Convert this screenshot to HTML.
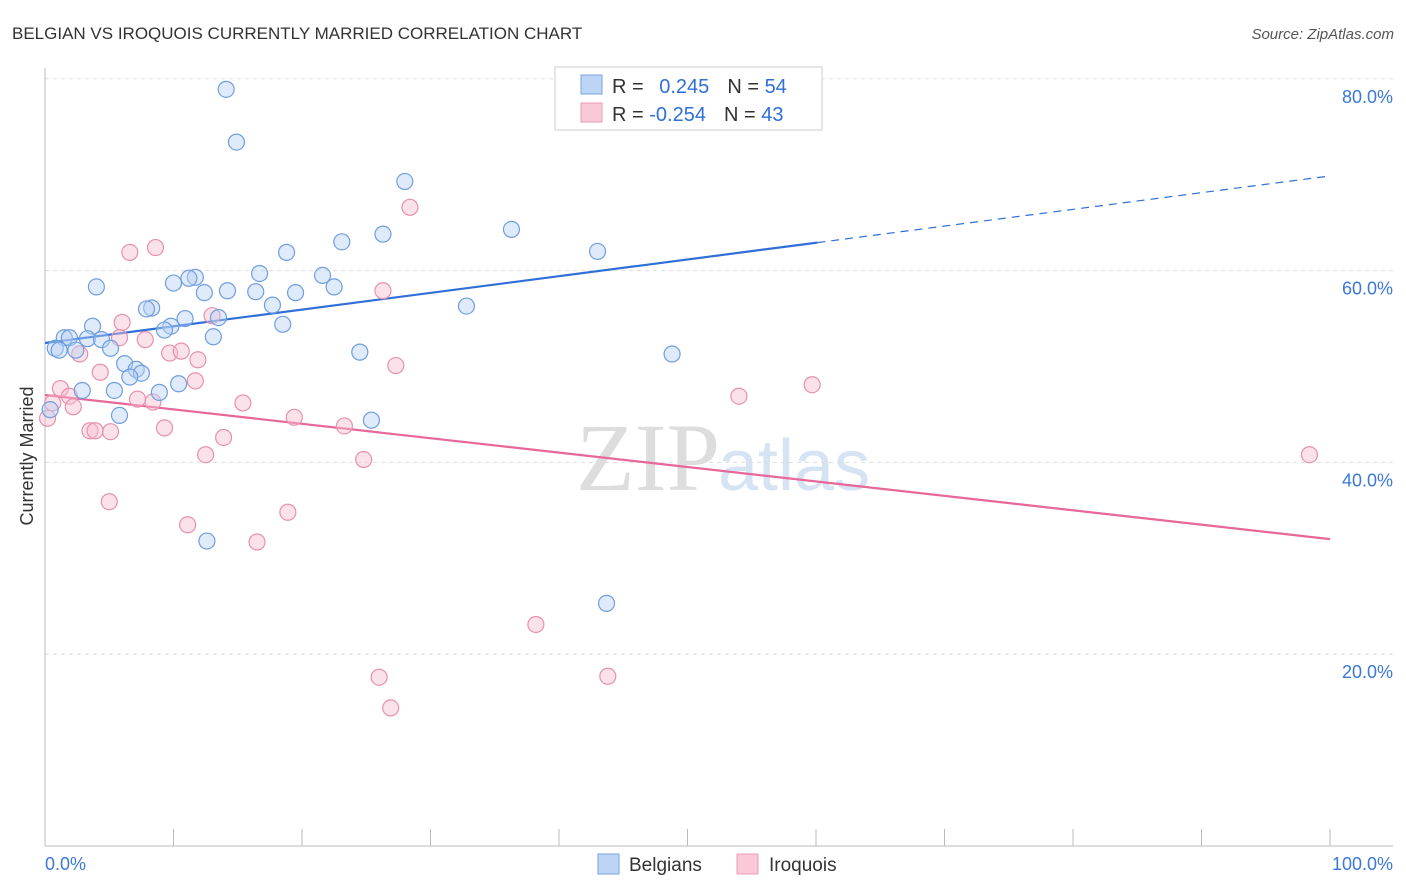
<!DOCTYPE html>
<html><head><meta charset="utf-8"><style>
body{margin:0;background:#fff;font-family:"Liberation Sans",sans-serif;}
svg{display:block}
</style></head><body>
<svg id="chart" width="1406" height="892">
<text x="12" y="39" font-size="17" fill="#333">BELGIAN VS IROQUOIS CURRENTLY MARRIED CORRELATION CHART</text>
<text x="1394" y="39" font-size="15" fill="#555" text-anchor="end" font-style="italic">Source: ZipAtlas.com</text>
<text x="720" y="490" font-size="96" fill="#ddd" text-anchor="end" font-family="Liberation Serif,serif">ZIP</text>
<text x="718" y="490" font-size="72" fill="#d6e3f3">atlas</text>
<text transform="translate(33,456) rotate(-90)" font-size="18" fill="#333" text-anchor="middle">Currently Married</text>
<g id="grid"></g><g id="ticks"></g><g id="lines"></g><g id="pts"></g>
<g>
<rect x="555" y="67" width="267" height="63" fill="#fff" stroke="#ccc"/>
<rect x="581" y="75" width="21" height="19" fill="#bcd4f5" stroke="#7aa3e0"/>
<rect x="581" y="103" width="21" height="19" fill="#f9c9d8" stroke="#eb9ab4"/>
<text x="612" y="93" font-size="20" fill="#333">R = <tspan fill="#2f6fd8" dx="10">0.245</tspan><tspan dx="18">N = </tspan><tspan fill="#2f6fd8">54</tspan></text>
<text x="612" y="121" font-size="20" fill="#333">R = <tspan fill="#2f6fd8">-0.254</tspan><tspan dx="18">N = </tspan><tspan fill="#2f6fd8">43</tspan></text>
</g>
<g>
<rect x="598" y="854" width="21" height="20" fill="#bcd4f5" stroke="#7aa3e0"/>
<text x="629" y="871" font-size="19" fill="#333">Belgians</text>
<rect x="737" y="854" width="21" height="20" fill="#f9c9d8" stroke="#eb9ab4"/>
<text x="769" y="871" font-size="19" fill="#333">Iroquois</text>
</g>
<text x="45" y="870" font-size="18" fill="#3b78d8">0.0%</text>
<text x="1393" y="870" font-size="18" fill="#3b78d8" text-anchor="end">100.0%</text>
</svg>
<script>
const blueX=[14.1,14.9,28.0,36.3,43.0,23.1,26.3,18.8,16.7,21.6,11.7,11.2,10.0,4.0,14.2,16.4,12.4,19.5,22.5,17.7,32.8,8.3,7.9,10.9,13.5,3.7,9.8,18.5,9.3,13.1,1.5,1.9,3.3,4.4,0.8,1.1,2.4,5.1,24.5,48.8,6.2,7.1,7.5,6.6,5.4,2.9,8.9,10.4,0.4,5.8,25.4,12.6,43.7,52.0];
const blueY=[78.9,73.4,69.3,64.3,62.0,63.0,63.8,61.9,59.7,59.5,59.3,59.2,58.7,58.3,57.9,57.8,57.7,57.7,58.3,56.4,56.3,56.1,56.0,55.0,55.1,54.2,54.2,54.4,53.8,53.1,53.0,53.0,52.9,52.8,51.9,51.7,51.7,51.9,51.5,51.3,50.3,49.7,49.3,48.9,47.5,47.5,47.3,48.2,45.5,44.9,44.4,31.8,25.3,77.7];
const pinkX=[28.4,8.6,6.6,26.3,13.0,6.0,5.8,7.8,2.7,9.7,10.6,11.9,27.3,59.7,11.7,1.2,4.3,1.9,0.6,54.0,2.2,7.2,8.4,15.4,19.4,23.3,9.3,3.5,3.9,5.1,13.9,12.5,24.8,98.4,5.0,18.9,11.1,16.5,38.2,26.0,43.8,26.9,0.2];
const pinkY=[66.6,62.4,61.9,57.9,55.3,54.6,53.0,52.8,51.3,51.4,51.6,50.7,50.1,48.1,48.5,47.7,49.4,46.9,46.2,46.9,45.8,46.6,46.3,46.2,44.7,43.8,43.6,43.3,43.3,43.2,42.6,40.8,40.3,40.8,35.9,34.8,33.5,31.7,23.1,17.6,17.7,14.4,44.6];
const blueTrend=[52.45,69.87];
const pinkTrend=[47.03,32.0];
const yTicks=[20,40,60,80];
const NS='http://www.w3.org/2000/svg';
const sx=v=>45+v*12.85, sy=v=>846-v*9.59;
function mk(t,a,p){const e=document.createElementNS(NS,t);for(const k in a)e.setAttribute(k,a[k]);p.appendChild(e);return e;}
const grid=document.getElementById('grid'),ticks=document.getElementById('ticks'),lines=document.getElementById('lines'),pts=document.getElementById('pts');
yTicks.forEach(v=>{
 const l=mk('line',{x1:45,x2:1393,y1:sy(v),y2:sy(v),stroke:'#ddd','stroke-dasharray':'4,4'},grid);
 
 
 const t=mk('text',{x:1393,y:sy(v)+24,'font-size':18,fill:'#3b78d8','text-anchor':'end'},grid);
 t.textContent=v.toFixed(1)+'%';
 
 
});
const ax=mk('line',{x1:45,x2:1393,y1:846,y2:846,stroke:'#bbb'},ticks);


const ay=mk('line',{x1:45,x2:45,y1:68,y2:846,stroke:'#bbb'},ticks);


for(let i=0;i<=10;i++){const t=mk('line',{x1:sx(i*10),x2:sx(i*10),y1:829,y2:846,stroke:'#bbb'},ticks);
 
 }
function drawPts(X,Y,fill,stroke,name){X.forEach((x,i)=>{const c=mk('circle',{cx:sx(x),cy:sy(Y[i]),r:8,fill:fill,'fill-opacity':0.45,stroke:stroke,'stroke-width':1.2},pts);
 
 });}
drawPts(pinkX,pinkY,'#f7bfd0','#e890ad','iroquois-point');
drawPts(blueX,blueY,'#b7d0f3','#6f9ee0','belgian-point');
const bEnd=60.1, bAt=v=>blueTrend[0]+(blueTrend[1]-blueTrend[0])*v/100;
const b1=mk('line',{x1:sx(0),y1:sy(bAt(0)),x2:sx(bEnd),y2:sy(bAt(bEnd)),stroke:'#2f6fd8','stroke-width':2.2},lines);


const b2=mk('line',{x1:sx(bEnd),y1:sy(bAt(bEnd)),x2:sx(100),y2:sy(bAt(100)),stroke:'#2f6fd8','stroke-width':1.2,'stroke-dasharray':'8,6'},lines);


const p1=mk('line',{x1:sx(0),y1:sy(pinkTrend[0]),x2:sx(100),y2:sy(pinkTrend[1]),stroke:'#e8679a','stroke-width':2.2},lines);


</script>
</body></html>
